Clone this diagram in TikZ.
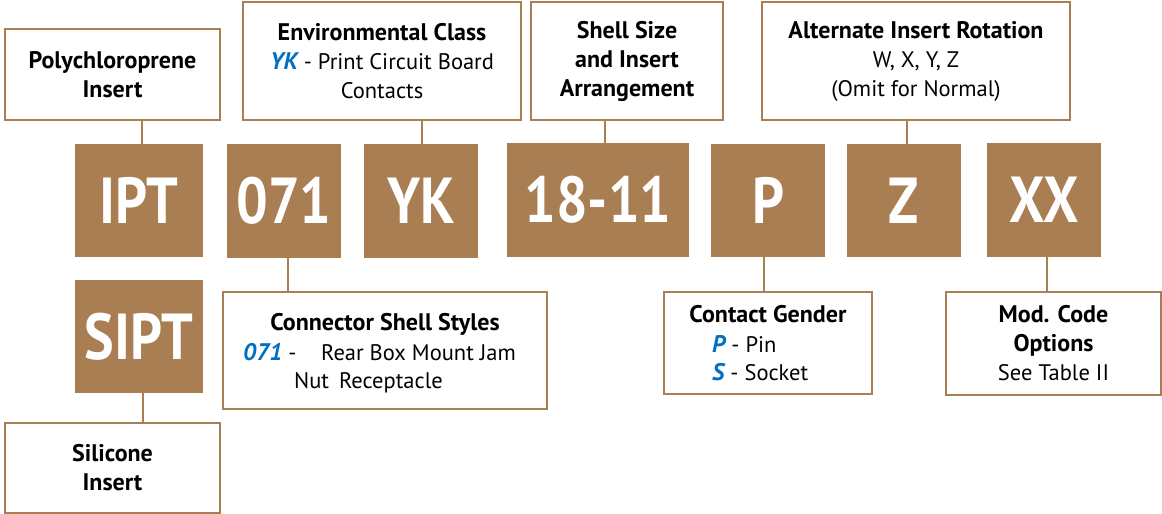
\documentclass[tikz,border=0pt]{standalone}
\usepackage{fontspec}
\usepackage{graphicx}
\setmainfont{PT Sans}
\usetikzlibrary{calc}
\definecolor{brownfill}{RGB}{169,126,83}
\definecolor{codeblue}{RGB}{0,112,192}
\newcommand\bluecode[1]{{\color{codeblue}\fontsize{24}{29}\selectfont\bfseries\itshape #1}}
\newcommand\hd[1]{{\fontsize{24}{29}\selectfont\bfseries #1}}
\newcommand\bigcode[1]{\scalebox{0.86}[1]{#1}}
\begin{document}
\begin{tikzpicture}[x=1pt,y=-1pt,
  infobox/.style={draw=brownfill, line width=2.6pt, fill=white, inner sep=0pt, align=center,
    font=\fontsize{22.5}{29}\selectfont},
  textlabel/.style={inner sep=0pt, font=\fontsize{22.5}{29}\selectfont},
  codebox/.style={fill=brownfill, inner sep=0pt, text=white,
    font=\fontsize{65}{65}\selectfont\bfseries},
  link/.style={draw=brownfill, line width=2.6pt}]
\useasboundingbox (0,0) rectangle (1162,514);

% top description boxes
\node[infobox, minimum width=215pt, minimum height=91pt] (poly) at (112.5,74.5)
  {\hd{Polychloroprene}\\\hd{Insert}};
\node[infobox, minimum width=278pt, minimum height=118pt] (env) at (382,61)
  {\hd{Environmental Class}\\\bluecode{YK} - Print Circuit Board\\Contacts};
\node[infobox, minimum width=192pt, minimum height=118pt] (shell) at (627,61)
  {\hd{Shell Size}\\\hd{and Insert}\\\hd{Arrangement}};
\node[infobox, minimum width=308pt, minimum height=118pt] (alt) at (916,61)
  {\hd{Alternate Insert Rotation}\\W, X, Y, Z\\(Omit for Normal)};

% code boxes
\node[codebox, minimum width=128pt, minimum height=113pt] (ipt) at (139,200.5) {\bigcode{IPT}};
\node[codebox, minimum width=114pt, minimum height=114pt] (c071) at (284,201) {\bigcode{071}};
\node[codebox, minimum width=114pt, minimum height=114pt] (yk) at (421,201) {\bigcode{YK}};
\node[codebox, minimum width=182pt, minimum height=114pt] (size) at (598,200) {\bigcode{18-11}};
\node[codebox, minimum width=114pt, minimum height=113pt] (pin) at (768,200.5) {\bigcode{P}};
\node[codebox, minimum width=114pt, minimum height=113pt] (rot) at (904,200.5) {\bigcode{Z}};
\node[codebox, minimum width=114pt, minimum height=114pt] (mod) at (1044,200) {\bigcode{XX}};
\node[codebox, minimum width=128pt, minimum height=113pt] (sipt) at (139,336.5) {\bigcode{SIPT}};

% bottom description boxes
\node[infobox, minimum width=215pt, minimum height=90pt] (sil) at (112.5,468)
  {\hd{Silicone}\\\hd{Insert}};
\node[infobox, minimum width=324pt, minimum height=117pt] (conn) at (385,350.5) {};
\node[textlabel, anchor=base] (connT) at (385,330) {\hd{Connector Shell Styles}};
\node[textlabel, anchor=base west] (connA) at (243,360)
  {\makebox[78pt][l]{\bluecode{071} -}Rear Box Mount Jam};
\node[textlabel, anchor=base west] (connB) at (294,388) {Nut\hspace{10pt}Receptacle};

\node[infobox, minimum width=208pt, minimum height=102pt] (gender) at (768,343) {};
\node[textlabel, anchor=base] (genderT) at (768,322) {\hd{Contact Gender}};
\node[textlabel, anchor=base west] (genderP) at (712,352) {\bluecode{P} - Pin};
\node[textlabel, anchor=base west] (genderS) at (712,380) {\bluecode{S} - Socket};

\node[infobox, minimum width=215pt, minimum height=103pt] (modopt) at (1053.5,343.5)
  {\hd{Mod. Code}\\\hd{Options}\\See Table II};

% connectors
\draw[link] ([xshift=3pt]ipt.north) -- ([xshift=3pt]ipt.north |- poly.south);
\draw[link] ([xshift=1pt]yk.north) -- ([xshift=1pt]yk.north |- env.south);
\draw[link] ([xshift=7pt]size.north) -- ([xshift=7pt]size.north |- shell.south);
\draw[link] ([xshift=3pt]rot.north) -- ([xshift=3pt]rot.north |- alt.south);
\draw[link] ([xshift=4pt]c071.south) -- ([xshift=4pt]c071.south |- conn.north);
\draw[link] ([xshift=-4pt]pin.south) -- ([xshift=-4pt]pin.south |- gender.north);
\draw[link] ([xshift=3pt]mod.south) -- ([xshift=3pt]mod.south |- modopt.north);
\draw[link] ([xshift=4pt]sipt.south) -- ([xshift=4pt]sipt.south |- sil.north);
\end{tikzpicture}
\end{document}
